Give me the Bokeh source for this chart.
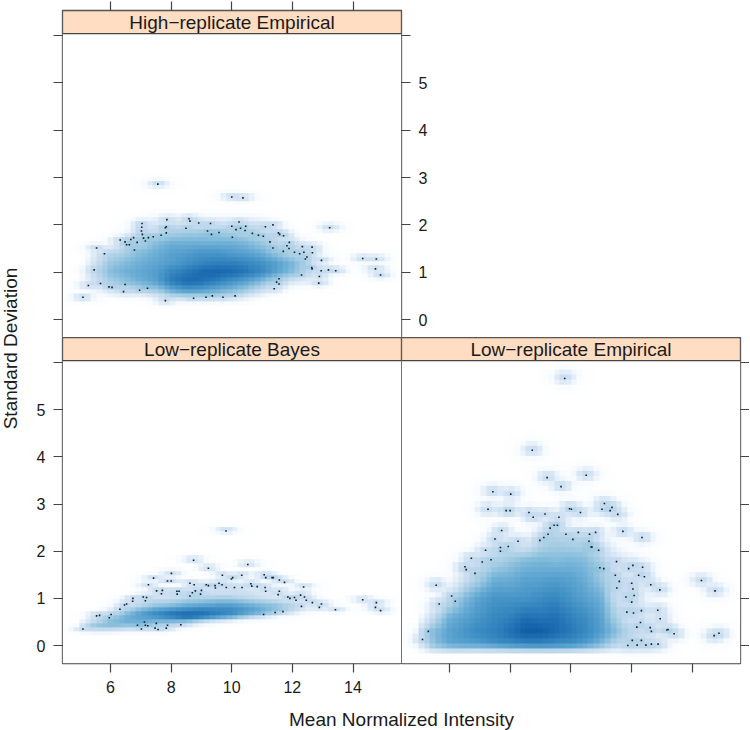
import numpy as np
from bokeh.core.properties import value
from bokeh.embed import file_html
from bokeh.resources import INLINE
from bokeh.layouts import column, row
from bokeh.models import FixedTicker, Label, LinearAxis, LinearColorMapper, Range1d
from bokeh.plotting import figure

# ---- texts and ticks
STRIPS = ["High\u2212replicate Empirical", "Low\u2212replicate Bayes", "Low\u2212replicate Empirical"]
X_LABEL = "Mean Normalized Intensity"
Y_LABEL = "Standard Deviation"
X_TICKS = [6, 8, 10, 12, 14]
Y_TICKS = [0, 1, 2, 3, 4, 5, 6]
Y_TICK_LABELS = ["0", "1", "2", "3", "4", "5", ""]

# ---- outlying points
hi_x = [7.56,10.0,10.37,13.23,7.04,7.03,7.02,7.86,7.84,7.81,7.84,7.67,8.59,8.62,8.49,8.91,9.30,9.20,9.33,9.58,10.0,10.24,10.29,10.46,10.14,10.44,10.02,10.68,10.88,11.04,11.11,11.36,11.54,11.58,11.71,11.26,11.36,11.90,11.82,11.89,11.70,12.07,12.24,12.33,12.65,12.38,12.66,12.48,12.43,12.96,14.32,14.77,14.74,14.91,12.64,12.65,12.95,13.19,13.43,12.89,12.87,12.30,11.56,11.48,11.56,11.40,10.11,9.71,9.36,9.15,8.74,7.81,5.09,5.27,5.67,5.95,6.05,6.48,6.43,6.96,7.22,5.46,5.80,5.54,6.32,6.48,6.53,6.62,6.67,6.76,6.88,6.79,7.05,7.09,7.15,7.25,7.41]
hi_y = [2.86,2.59,2.57,1.94,2.03,1.95,1.87,2.11,1.96,1.94,1.83,1.78,2.13,2.08,1.93,2.04,2.03,1.87,1.80,1.84,1.97,2.06,1.93,1.97,1.90,1.88,1.74,1.82,1.78,1.76,1.96,2.00,1.83,1.80,1.77,1.64,1.51,1.63,1.56,1.50,1.44,1.42,1.39,1.54,1.53,1.42,1.41,1.32,1.28,1.25,1.29,1.28,1.07,0.94,1.10,1.07,1.03,1.05,1.03,0.91,0.77,0.94,0.86,0.79,0.75,0.65,0.50,0.47,0.50,0.47,0.45,0.40,0.47,0.72,0.76,0.69,0.68,0.74,0.59,0.62,0.66,1.05,1.39,1.51,1.68,1.64,1.58,1.58,1.69,1.73,1.63,1.47,1.80,1.72,1.66,1.73,1.75]

ba_x = [9.81,8.74,10.53,9.23,8.01,7.42,7.88,8.0,7.25,9.69,10.33,10.03,9.99,11.07,11.12,11.33,11.37,11.57,11.74,8.62,8.76,9.16,9.23,9.45,9.58,9.68,9.46,9.82,10.09,10.34,10.63,10.66,10.84,11.10,11.12,12.37,11.57,11.53,7.52,7.71,7.68,8.19,8.26,8.20,8.80,8.70,8.62,8.97,9.0,6.74,6.73,7.08,7.19,7.15,6.46,6.53,6.31,6.02,5.96,5.64,5.54,5.09,6.89,7.12,7.15,7.23,7.02,7.51,7.47,7.57,7.84,7.88,8.32,11.05,11.43,11.69,11.85,11.92,12.07,12.12,12.27,12.40,12.46,12.30,12.66,12.96,12.89,13.42,14.32,14.77,14.74,14.91]
ba_y = [2.43,1.81,1.72,1.64,1.53,1.43,1.37,1.37,1.29,1.49,1.49,1.44,1.41,1.50,1.44,1.44,1.44,1.39,1.34,1.32,1.29,1.29,1.27,1.27,1.32,1.29,1.22,1.23,1.23,1.23,1.31,1.26,1.25,1.23,1.15,1.24,1.15,1.08,1.16,1.17,1.10,1.15,1.15,1.09,1.16,1.12,1.05,1.09,1.17,1.0,0.94,1.03,1.02,0.95,0.86,0.88,0.77,0.66,0.59,0.64,0.63,0.35,0.43,0.50,0.43,0.42,0.35,0.47,0.37,0.34,0.37,0.43,0.44,0.66,0.70,0.72,1.03,1.0,1.02,0.96,1.07,1.03,0.96,0.83,0.91,0.88,0.81,0.76,0.97,0.91,0.81,0.74]

lo_x = [9.80,8.73,9.22,10.51,9.68,7.43,8.02,7.27,7.87,8.0,9.96,10.02,10.32,11.11,11.03,11.36,11.30,11.55,8.62,8.76,9.15,9.61,9.45,9.56,9.32,9.25,9.11,8.98,7.72,7.50,8.26,7.94,7.68,7.68,7.19,7.37,7.08,6.72,6.51,6.55,6.84,5.56,6.07,6.19,5.66,5.30,5.11,9.84,10.25,10.07,10.62,10.82,10.60,10.67,10.70,10.92,11.72,12.35,10.96,11.09,11.51,11.47,11.60,11.52,11.91,12.05,12.37,12.24,12.43,12.64,12.94,12.01,12.05,12.09,11.82,12.01,14.31,14.76,11.85,12.07,12.33,12.87,12.95,12.30,12.18,12.62,12.66,13.17,13.21,13.41,14.73,14.89,12.03,12.33,11.88,12.19,12.48,12.66,12.88]
lo_y = [5.66,4.14,3.56,3.61,3.37,3.26,3.21,2.89,2.86,2.86,2.90,2.89,2.82,3.01,2.89,2.93,2.86,2.78,2.82,2.72,2.79,2.72,2.55,2.55,2.49,2.36,2.29,2.23,2.44,2.26,2.21,2.10,2.08,2.0,2.02,1.82,1.77,1.85,1.67,1.61,1.53,1.28,1.05,0.94,0.88,0.30,0.13,2.36,2.40,2.25,2.36,2.40,2.21,2.09,2.09,2.02,2.42,2.29,1.65,1.63,1.78,1.49,1.36,1.22,1.63,1.70,1.66,1.49,1.46,1.29,1.18,1.32,1.20,1.06,1.03,0.92,1.38,1.16,0.71,0.69,0.74,0.75,0.57,0.49,0.39,0.38,0.30,0.33,0.34,0.25,0.21,0.26,0.11,0.11,0.0,0.01,0.01,0.03,0.03]

# ---- shade of the dense core, estimated by eye on a coarse lattice
core_x = [5,5.5,6,6.5,7,7.5,8,8.5,9,9.5,10,10.5,11,11.5,12,12.5,13]

hi_core_y = [0.3,0.4,0.6,0.8,1.0,1.2,1.4,1.6,1.8,2.0,2.2,2.3]
hi_core = [
 [0]*17,
 [0,0,0,0,0,.1,.2,.2,.2,.2,.15,.1,0,0,0,0,0],
 [.05,.15,.25,.3,.35,.42,.55,.62,.6,.55,.5,.42,.3,.1,0,0,0],
 [.1,.3,.42,.48,.55,.6,.74,.8,.78,.72,.66,.6,.5,.35,.25,.2,0],
 [.1,.35,.5,.55,.58,.62,.7,.75,.8,.82,.8,.76,.7,.6,.5,.35,.1],
 [0,.3,.45,.5,.55,.58,.62,.66,.7,.72,.72,.7,.66,.6,.52,.4,.1],
 [0,.2,.35,.42,.5,.55,.6,.62,.65,.65,.62,.6,.55,.45,.35,.25,0],
 [0,0,.15,.35,.4,.5,.55,.55,.55,.55,.55,.52,.45,.35,.3,.15,0],
 [0,0,0,.15,.3,.35,.42,.45,.45,.45,.42,.4,.35,.3,.1,0,0],
 [0,0,0,0,.2,.25,.3,.3,.3,.3,.3,.3,.3,.15,0,0,0],
 [0,0,0,0,0,.1,.15,.1,.1,.1,.1,.1,.05,0,0,0,0],
 [0]*17,
]

ba_core_y = [0.2,0.3,0.4,0.5,0.6,0.7,0.8,0.9,1.0,1.1,1.2,1.3,1.4]
ba_core = [
 [0]*17,
 [.15,.2,.2,.15,.1,.05,0,0,0,0,0,0,0,0,0,0,0],
 [.3,.5,.5,.45,.42,.35,.25,.15,.05,0,0,0,0,0,0,0,0],
 [.15,.35,.5,.55,.55,.5,.5,.45,.3,.15,.05,0,0,0,0,0,0],
 [0,.25,.42,.55,.6,.65,.72,.8,.75,.65,.55,.4,.25,.1,0,0,0],
 [0,.1,.25,.45,.6,.7,.75,.78,.78,.75,.72,.65,.55,.4,.25,.1,0],
 [0,0,.1,.3,.42,.5,.55,.6,.65,.65,.65,.6,.55,.5,.4,.25,0],
 [0,0,0,.15,.3,.4,.42,.5,.5,.55,.55,.5,.45,.4,.3,.1,0],
 [0,0,0,.1,.2,.3,.3,.35,.4,.4,.4,.35,.3,.25,.15,0,0],
 [0,0,0,0,.12,.2,.25,.3,.3,.3,.3,.3,.25,.15,.1,0,0],
 [0,0,0,0,.1,.12,.15,.2,.2,.25,.25,.25,.2,.1,0,0,0],
 [0,0,0,0,0,0,0,0,0,.1,.12,.1,.05,0,0,0,0],
 [0]*17,
]

lo_core_y = [-0.16,-0.12,-0.05,0.1,0.3,0.6,1.0,1.4,1.8,2.2,2.6,3.0]
lo_core = [
 [0]*17,
 [.08,.18,.22,.22,.22,.24,.25,.25,.25,.25,.25,.22,.18,.12,.08,.05,0],
 [.2,.42,.48,.5,.5,.52,.55,.58,.58,.58,.55,.5,.42,.3,.2,.12,0],
 [.25,.5,.6,.62,.65,.7,.72,.75,.75,.72,.7,.65,.55,.4,.3,.2,.1],
 [.3,.5,.6,.65,.7,.72,.78,.85,.85,.8,.75,.7,.62,.5,.35,.25,.15],
 [.1,.35,.55,.6,.65,.7,.72,.78,.76,.78,.72,.68,.6,.4,.25,.2,.1],
 [0,.1,.3,.5,.6,.65,.65,.65,.68,.7,.65,.6,.55,.3,.25,.15,.1],
 [0,0,.1,.3,.42,.55,.55,.6,.6,.62,.6,.55,.45,.3,.2,.15,0],
 [0,0,0,.1,.3,.38,.45,.5,.52,.5,.52,.5,.4,.25,.2,.1,0],
 [0,0,0,0,0,.2,.25,.2,.35,.42,.38,.38,.25,.1,0,0,0],
 [0,0,0,0,0,0,0,0,.1,.25,.1,0,0,0,0,0,0],
 [0]*17,
]

# ---- colours
BLUES = ["#FFFFFF","#F7FBFF","#DEEBF7","#C6DBEF","#9ECAE1","#6BAED6","#4292C6","#2171B5","#08519C","#08306B"]
STRIP = "#FEDDC2"
INK = "#444444"
TEXT = "#1a1a1a"
FONT = "Liberation Sans"

X0, X1 = 4.416, 15.6
Y0, Y1, Y_STRIP = -0.38, 6.04, 6.53


def ramp():
    rgb = np.array([[int(c[i:i + 2], 16) for i in (1, 3, 5)] for c in BLUES], float)
    t = np.linspace(0, 1, 256)
    pos = np.linspace(0, 1, len(BLUES))
    out = [np.interp(t, pos, rgb[:, k]) for k in range(3)]
    return ["#%02x%02x%02x" % (int(r), int(g), int(b)) for r, g, b in zip(*out)]


def density(px, py, gy, grid, sx, sy, nx, ny, weight=0.012):
    f = 4
    xs = X0 + (np.arange(nx * f) + .5) * (X1 - X0) / (nx * f)
    ys = Y0 + (np.arange(ny * f) + .5) * (Y1 - Y0) / (ny * f)
    by_row = np.array([np.interp(xs, core_x, r, left=0, right=0) for r in grid])
    core = np.array([np.interp(ys, gy, by_row[:, i], left=0, right=0) for i in range(len(xs))]).T
    d = core ** 4
    gx_, gy_ = np.meshgrid(xs, ys)
    for a, b in zip(px, py):
        d = d + weight * np.exp(-(gx_ - a) ** 2 / (2 * sx ** 2) - (gy_ - b) ** 2 / (2 * sy ** 2))
    d = d.reshape(ny, f, nx, f).mean(axis=(1, 3))
    return d ** .25


def panel(title, px, py, gy, grid, sx, sy, ny, width, height, left, right, bottom, top):
    p = figure(width=width, height=height, output_backend="svg", toolbar_location=None,
               x_range=Range1d(X0, X1), y_range=Range1d(Y0, Y_STRIP), x_axis_type=None, y_axis_type=None,
               min_border_left=left, min_border_right=right, min_border_bottom=bottom, min_border_top=top,
               background_fill_color="white", border_fill_color=None, outline_line_color=INK,
               outline_line_width=1.3)
    p.grid.visible = False
    img = density(px, py, gy, grid, sx, sy, 60, ny)
    p.image(image=[img], x=X0, y=Y0, dw=X1 - X0, dh=Y1 - Y0,
            color_mapper=LinearColorMapper(palette=ramp(), low=0, high=1))
    p.scatter(px, py, size=1.6, color="#10202c", marker="square", line_width=0)
    p.quad(left=[X0], right=[X1], bottom=[Y1], top=[Y_STRIP], fill_color=STRIP, line_color=INK, line_width=1.3)
    p.text([(X0 + X1) / 2], [(Y1 + Y_STRIP) / 2], text=[title], text_align="center", text_baseline="middle",
           text_font=value(FONT), text_font_size="19px", text_color=TEXT)
    return p


def axis(p, where, ticks, labels=None):
    a = LinearAxis(ticker=FixedTicker(ticks=ticks), axis_line_color=None, major_tick_line_color=INK,
                   major_tick_line_width=1.2, major_tick_in=0, major_tick_out=9, minor_tick_line_color=None)
    if labels:
        a.major_label_overrides = {k: v for k, v in zip(ticks, labels)}
        a.major_label_text_font = FONT
        a.major_label_text_font_size = "16px"
        a.major_label_text_color = TEXT
        a.major_label_standoff = 8
    else:
        a.major_label_text_font_size = "0px"
        a.major_label_text_color = None
        a.major_label_standoff = 0
    p.add_layout(a, where)


LEFT = 22
p_hi = panel(STRIPS[0], hi_x, hi_y, hi_core_y, hi_core, .15, .03, 76, 448 - LEFT, 337, 62 - LEFT, 47, 0, 10)
axis(p_hi, "above", X_TICKS)
axis(p_hi, "left", Y_TICKS)
axis(p_hi, "right", Y_TICKS, Y_TICK_LABELS)

p_ba = panel(STRIPS[1], ba_x, ba_y, ba_core_y, ba_core, .15, .02, 76, 401 - LEFT, 363, 62 - LEFT, 0, 37, 0)
axis(p_ba, "below", X_TICKS, [str(t) for t in X_TICKS])
axis(p_ba, "left", Y_TICKS, Y_TICK_LABELS)

p_lo = panel(STRIPS[2], lo_x, lo_y, lo_core_y, lo_core, .15, .055, 60, 749 - 401, 363, 0, 9, 37, 0)
axis(p_lo, "below", X_TICKS)
axis(p_lo, "right", Y_TICKS)


def label_fig(width, height, text, x, y, angle):
    f = figure(width=width, height=height, output_backend="svg", toolbar_location=None,
               x_range=Range1d(0, width), y_range=Range1d(0, height), x_axis_type=None, y_axis_type=None,
               min_border=0, outline_line_color=None, background_fill_color=None, border_fill_color=None)
    f.grid.visible = False
    f.add_layout(Label(x=x, y=y, x_units="screen", y_units="screen", text=text, angle=angle,
                       text_align="center", text_baseline="middle", text_font=FONT,
                       text_font_size="19px", text_color=TEXT))
    return f


y_fig = label_fig(LEFT, 700, Y_LABEL, 10, 700 - 348, np.pi / 2)
x_fig = label_fig(745, 30, X_LABEL, 401, 11, 0)

root = column(row(y_fig, column(p_hi, row(p_ba, p_lo, spacing=0), spacing=0), spacing=0), x_fig, spacing=0)

open("out.html", "w").write(file_html(root, INLINE))
